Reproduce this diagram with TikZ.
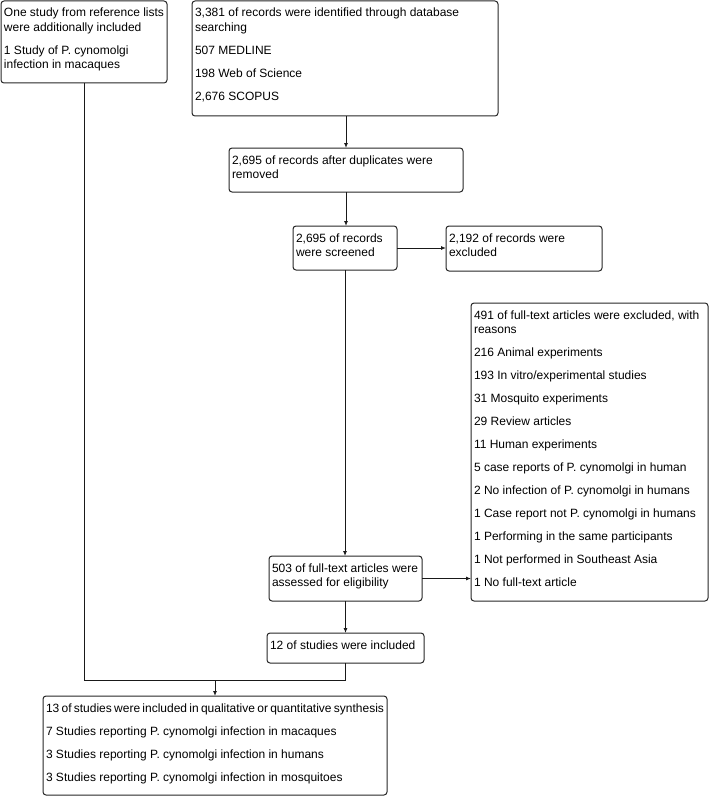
\documentclass[tikz,border=0pt]{standalone}
\usepackage{fontspec}
\setmainfont{Liberation Sans}
\usetikzlibrary{arrows.meta}
\newcommand\bxc[3]{\begin{minipage}[c][#2][t]{#1}\setlength{\parskip}{8.5pt}\rule{0pt}{16pt}#3\end{minipage}}
\tikzset{
  flowbox/.style={draw=black!85, line width=1pt, rounded corners=3pt, anchor=north west,
    inner xsep=3pt, inner ysep=0pt, outer sep=0pt, align=left},
  conn/.style={draw=black!90, line width=0.9pt},
  arr/.style={conn, -{Latex[length=5pt,width=4pt]}}
}
\begin{document}
\begin{tikzpicture}[x=1pt,y=-1pt,font=\fontsize{12}{14.5}\selectfont]
\useasboundingbox (0,0) rectangle (709,797);
\node[flowbox] (A) at (1,1) {\bxc{160pt}{82pt}{One study from reference lists\\were additionally included\par 1 Study of P. cynomolgi\\infection in macaques}};
\node[flowbox] (B) at (192,1) {\bxc{300pt}{115pt}{3,381 of records were identified through database\\searching\par 507 MEDLINE\par 198 Web of Science\par 2,676 SCOPUS}};
\node[flowbox] (C) at (229,148) {\bxc{228pt}{44pt}{2,695 of records after duplicates were\\removed}};
\node[flowbox] (D) at (293,226) {\bxc{98pt}{44pt}{2,695 of records\\were screened}};
\node[flowbox] (E) at (446,226) {\bxc{150pt}{45pt}{2,192 of records were\\excluded}};
\node[flowbox] (F) at (471,303) {\bxc{231pt}{298pt}{491 of full-text articles were excluded, with\\reasons\par 216 Animal experiments\par 193 In vitro/experimental studies\par 31 Mosquito experiments\par 29 Review articles\par 11 Human experiments\par 5 case reports of P. cynomolgi in human\par 2 No infection of P. cynomolgi in humans\par 1 Case report not P. cynomolgi in humans\par 1 Performing in the same participants\par 1 Not performed in Southeast Asia\par 1 No full-text article}};
\node[flowbox] (G) at (269,556) {\bxc{147pt}{45pt}{503 of full-text articles were\\assessed for eligibility}};
\node[flowbox] (H) at (267,633) {\bxc{151pt}{30pt}{12 of studies were included}};
\node[flowbox] (I) at (43,696) {\bxc{338pt}{99pt}{13 of studies were included in qualitative or quantitative synthesis\par 7 Studies reporting P. cynomolgi infection in macaques\par 3 Studies reporting P. cynomolgi infection in humans\par 3 Studies reporting P. cynomolgi infection in mosquitoes}};
\coordinate (join) at (I.north |- 0,680);
\draw[arr] (B.south -| C.north) -- (C.north);
\draw[arr] (C.south) -- (D.north -| C.south);
\draw[arr] (D.east) -- (E.west |- D.east);
\draw[arr] (D.south) -- (G.north -| D.south);
\draw[arr] (G.east) -- (F.west |- G.east);
\draw[arr] (G.south) -- (H.north -| G.south);
\draw[conn] (A.south) -- (A.south |- join) -- (H.south |- join) -- (H.south);
\draw[arr] (join) -- (I.north);
\end{tikzpicture}
\end{document}
